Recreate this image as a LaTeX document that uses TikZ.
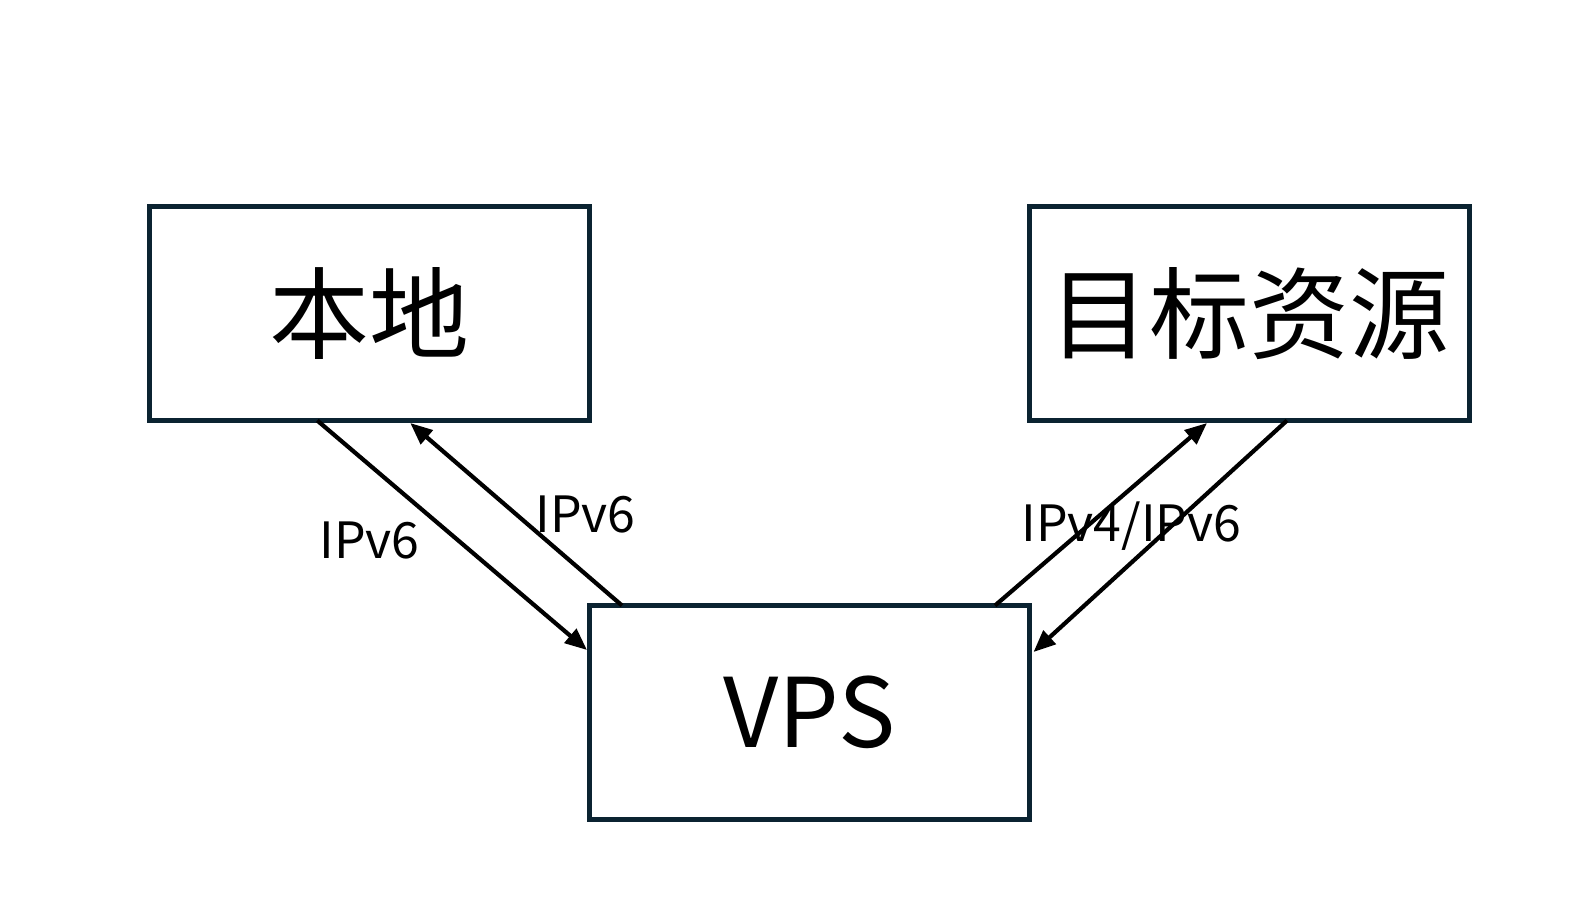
\documentclass[tikz,border=0pt]{standalone}
\usepackage{fontspec}
\setmainfont{Noto Sans CJK SC}
\usetikzlibrary{arrows.meta}
\definecolor{boxline}{HTML}{0B2331}
\tikzset{
  box/.style={draw=boxline, line width=5pt, inner sep=0pt, outer sep=0pt, minimum width=440pt, minimum height=214pt, fill=white},
  conn/.style={draw=black, line width=4.2pt, -{Triangle[length=22pt,width=18pt]}},
  lbl/.style={inner sep=0pt, font=\fontsize{50}{60}\selectfont}
}
\begin{document}
\begin{tikzpicture}[x=1pt,y=-1pt]
\useasboundingbox[fill=white] (0,0) rectangle (1592,919);
\node[box, font=\fontsize{100}{110}\selectfont] (local) at (369.75,313.5) {本地};
\node[box, font=\fontsize{100}{110}\selectfont] (target) at (1249.5,313.5) {目标资源};
\node[box, font=\fontsize{96}{110}\selectfont] (vps) at (809.5,712.5) {VPS};
\draw[conn] ([xshift=167.5pt]local.south west) -- ([xshift=-2.5pt,yshift=-44.5pt]vps.north west);
\draw[conn] ([xshift=32.5pt]vps.north west) -- ([xshift=260.5pt,yshift=-2.5pt]local.south west);
\draw[conn] ([xshift=405.5pt]vps.north west) -- ([xshift=177.5pt,yshift=-2.5pt]target.south west);
\draw[conn] ([xshift=257.5pt]target.south west) -- ([xshift=4pt,yshift=-46.5pt]vps.north east);
\node[lbl] (l1) at (369.5,540.5) {IPv6};
\node[lbl] (l2) at (585.5,514) {IPv6};
\node[lbl] (l3) at (1131.5,526.5) {IPv4/IPv6};
\end{tikzpicture}
\end{document}
